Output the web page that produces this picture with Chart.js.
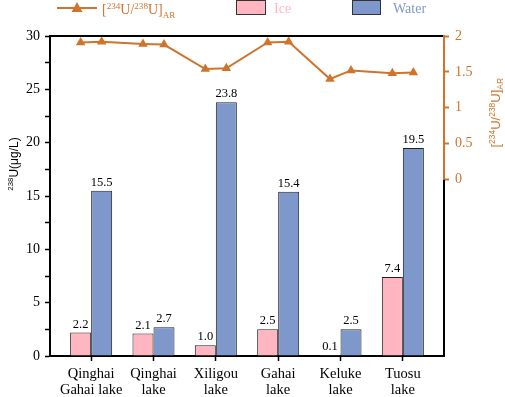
<!DOCTYPE html>
<html>
<head>
<meta charset="utf-8">
<script src="https://cdn.jsdelivr.net/npm/chart.js@4"></script>
<style>
  html, body { margin: 0; padding: 0; background: #fff; }
  #wrap { width: 505px; height: 397px; }
</style>
</head>
<body>
<div id="wrap"><canvas id="chart"></canvas></div>
<script>
const categories = [
  ["Qinghai", "Gahai lake"],
  ["Qinghai", "lake"],
  ["Xiligou", "lake"],
  ["Gahai", "lake"],
  ["Keluke", "lake"],
  ["Tuosu", "lake"]
];
const iceValues = [2.2, 2.1, 1.0, 2.5, 0.1, 7.4];
const waterValues = [15.5, 2.7, 23.8, 15.4, 2.5, 19.5];
// [234U/238U]AR, two samples per lake (ice side, water side)
const ratioValues = [1.91, 1.92, 1.89, 1.88, 1.54, 1.55, 1.91, 1.92, 1.40, 1.52, 1.48, 1.49];
const rightTicks = [0, 0.5, 1, 1.5, 2];

const ORANGE = "#d0742c";
const PINK = "#ffb6c1";
const BLUE = "#7f98cc";
const SERIF = "'Liberation Serif', 'Times New Roman', serif";
const SANS = "'Liberation Sans', Arial, sans-serif";

const catPct = 0.674;
const half = catPct / 4; // centre of each bar in a group

const ratioPoints = ratioValues.map((v, k) => ({
  x: Math.floor(k / 2) + (k % 2 === 0 ? -half : half),
  y: v
}));

// draws text with super/subscript pieces
function richText(ctx, parts, x, y, size, font, align) {
  const pieces = parts.map(p => {
    const s = p.sup || p.sub ? size * 0.65 : size;
    ctx.font = s + "px " + font;
    return { ...p, s, w: ctx.measureText(p.t).width };
  });
  const total = pieces.reduce((a, p) => a + p.w, 0);
  let cx = align === "center" ? x - total / 2 : x;
  ctx.textBaseline = "alphabetic";
  ctx.textAlign = "left";
  pieces.forEach(p => {
    ctx.font = p.s + "px " + font;
    let dy = 0;
    if (p.sup) dy = -size * 0.38;
    if (p.sub) dy = size * 0.25;
    ctx.fillText(p.t, cx, y + dy);
    cx += p.w;
  });
}

const ratioLabel = [
  { t: "[" }, { t: "234", sup: true }, { t: "U/" }, { t: "238", sup: true },
  { t: "U]" }, { t: "AR", sub: true }
];

const extras = {
  id: "extras",
  afterDatasetsDraw(chart) {
    const ctx = chart.ctx;
    const area = chart.chartArea;
    const y1 = chart.scales.y1;
    ctx.save();
    // value labels above the bars
    ctx.fillStyle = "#000";
    ctx.font = "12.5px " + SERIF;
    ctx.textAlign = "center";
    ctx.textBaseline = "bottom";
    [0, 1].forEach(di => {
      const meta = chart.getDatasetMeta(di);
      const vals = chart.data.datasets[di].data;
      meta.data.forEach((bar, i) => {
        ctx.fillText(vals[i].y.toFixed(1), bar.x, bar.y - 2);
      });
    });
    // frame: top line and right side
    ctx.lineWidth = 2;
    ctx.strokeStyle = "#000";
    ctx.beginPath();
    ctx.moveTo(area.left, area.top);
    ctx.lineTo(area.right, area.top);
    ctx.moveTo(area.right, area.bottom);
    ctx.lineTo(area.right, y1.getPixelForValue(0));
    ctx.stroke();
    ctx.strokeStyle = ORANGE;
    ctx.beginPath();
    ctx.moveTo(area.right, y1.getPixelForValue(0));
    ctx.lineTo(area.right, y1.getPixelForValue(2) - 1);
    ctx.stroke();
    ctx.restore();
  },
  afterDraw(chart) {
    const ctx = chart.ctx;
    const y1 = chart.scales.y1;
    ctx.save();
    // legend
    ctx.strokeStyle = ORANGE;
    ctx.fillStyle = ORANGE;
    ctx.lineWidth = 2;
    ctx.beginPath();
    ctx.moveTo(57, 8);
    ctx.lineTo(97, 8);
    ctx.stroke();
    ctx.beginPath();
    ctx.moveTo(77, 2);
    ctx.lineTo(82.5, 12);
    ctx.lineTo(71.5, 12);
    ctx.closePath();
    ctx.fill();
    richText(ctx, ratioLabel, 102, 14, 14, SERIF, "left");

    ctx.lineWidth = 1;
    ctx.strokeStyle = "#333";
    ctx.fillStyle = PINK;
    ctx.fillRect(236, 0, 30, 15);
    ctx.strokeRect(236.5, 0.5, 29, 14);
    ctx.fillStyle = BLUE;
    ctx.fillRect(352, 0, 29, 15);
    ctx.strokeRect(352.5, 0.5, 28, 14);
    ctx.font = "14px " + SERIF;
    ctx.textBaseline = "alphabetic";
    ctx.fillStyle = PINK;
    ctx.fillText("Ice", 274, 13);
    ctx.fillStyle = BLUE;
    ctx.fillText("Water", 393, 13);

    // left axis title
    ctx.fillStyle = "#000";
    ctx.translate(18, 164);
    ctx.rotate(-Math.PI / 2);
    richText(ctx, [{ t: "238", sup: true }, { t: "U(\u03bcg/L)" }], 0, 0, 12, SANS, "center");
    ctx.setTransform(1, 0, 0, 1, 0, 0);

    // right axis title
    ctx.fillStyle = ORANGE;
    const midY = (y1.getPixelForValue(0) + y1.getPixelForValue(2)) / 2 + 5;
    ctx.translate(500, midY);
    ctx.rotate(-Math.PI / 2);
    richText(ctx, ratioLabel, 0, 0, 13, SANS, "center");
    ctx.restore();
  }
};

new Chart(document.getElementById("chart"), {
  type: "bar",
  data: {
    datasets: [
      {
        label: "Ice",
        data: iceValues.map((v, i) => ({ x: i, y: v })),
        backgroundColor: PINK,
        borderColor: "#222",
        borderWidth: 1,
        categoryPercentage: catPct,
        barPercentage: 1,
        yAxisID: "y",
        order: 2
      },
      {
        label: "Water",
        data: waterValues.map((v, i) => ({ x: i, y: v })),
        backgroundColor: BLUE,
        borderColor: "#222",
        borderWidth: 1,
        categoryPercentage: catPct,
        barPercentage: 1,
        yAxisID: "y",
        order: 2
      },
      {
        type: "line",
        label: "[234U/238U]AR",
        data: ratioPoints,
        borderColor: ORANGE,
        backgroundColor: ORANGE,
        borderWidth: 2,
        pointStyle: "triangle",
        pointRadius: 5.5,
        pointBorderWidth: 0,
        yAxisID: "y1",
        order: 1
      }
    ]
  },
  options: {
    responsive: true,
    maintainAspectRatio: false,
    animation: false,
    layout: { padding: { top: 36, left: 0, right: 0, bottom: 0 } },
    plugins: {
      legend: { display: false },
      tooltip: { enabled: false }
    },
    scales: {
      x: {
        type: "linear",
        offset: false,
        min: -0.66,
        max: 5.66,
        afterBuildTicks: s => { s.ticks = categories.map((_, i) => ({ value: i })); },
        afterFit: s => { s.height = 41; },
        ticks: {
          autoSkip: false,
          maxRotation: 0,
          padding: 5,
          color: "#000",
          font: { family: SERIF, size: 14.5, lineHeight: 1.1 },
          callback: v => categories[v]
        },
        grid: { offset: false, drawOnChartArea: false, tickLength: 5, tickColor: "#000", tickWidth: 1.5 },
        border: { color: "#000", width: 2 }
      },
      y: {
        position: "left",
        min: 0,
        max: 30,
        afterFit: s => { s.width = 50; },
        ticks: {
          stepSize: 2.5,
          autoSkip: false,
          padding: 5,
          color: "#000",
          font: { family: SERIF, size: 14 },
          callback: v => (v % 5 === 0 ? v : "")
        },
        grid: { drawOnChartArea: false, tickLength: 5, tickColor: "#000", tickWidth: 1.5 },
        border: { color: "#000", width: 2 }
      },
      y1: {
        position: "right",
        min: -2.46,
        max: 2,
        afterBuildTicks: s => { s.ticks = rightTicks.map(v => ({ value: v })); },
        afterFit: s => { s.width = 61; },
        ticks: {
          autoSkip: false,
          padding: 6,
          color: ORANGE,
          font: { family: SERIF, size: 14 },
          callback: v => v
        },
        grid: { drawOnChartArea: false, tickLength: 5, tickColor: ORANGE, tickWidth: 2 },
        border: { display: false }
      }
    }
  },
  plugins: [extras]
});
</script>
</body>
</html>
